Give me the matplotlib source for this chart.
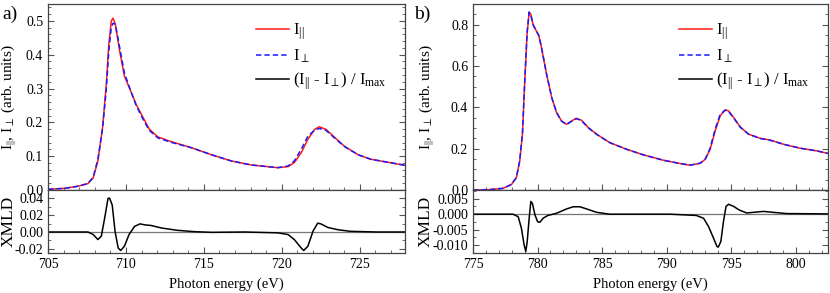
import matplotlib
matplotlib.use("Agg")
import matplotlib.pyplot as plt
from matplotlib.ticker import MultipleLocator, FormatStrFormatter

plt.rcParams['font.family'] = ['Liberation Serif', 'DejaVu Serif']
plt.rcParams['mathtext.fontset'] = 'custom'
plt.rcParams['mathtext.rm'] = 'Liberation Serif'
plt.rcParams['mathtext.it'] = 'Liberation Serif:italic'
plt.rcParams['mathtext.bf'] = 'Liberation Serif:bold'
plt.rcParams['axes.unicode_minus'] = False

# ---------------- data: panel a) (Fe L-edge) ----------------
E_a = [705, 706.07, 706.9, 707.56, 707.9, 708.2, 708.5, 708.74, 708.9, 709.06,
       709.17, 709.32, 709.6, 709.9, 710.3, 710.66, 711.1, 711.5, 712.05, 712.9,
       714.2, 715.5, 716.75, 718.03, 719.74, 720.4, 720.8, 721.24, 721.67, 722.1,
       722.4, 722.84, 723.4, 724.0, 724.9, 725.7, 726.8, 727.9]
Ipar_a = [0.002, 0.005, 0.011, 0.019, 0.036, 0.086, 0.184, 0.313, 0.431, 0.500,
          0.508, 0.490, 0.410, 0.337, 0.293, 0.253, 0.214, 0.180, 0.157, 0.143,
          0.125, 0.104, 0.086, 0.074, 0.066, 0.069, 0.081, 0.110, 0.150, 0.179,
          0.187, 0.179, 0.155, 0.130, 0.104, 0.091, 0.082, 0.073]
Iperp_a = [0.002, 0.005, 0.011, 0.019, 0.038, 0.091, 0.182, 0.299, 0.411, 0.482,
           0.493, 0.490, 0.421, 0.346, 0.294, 0.249, 0.209, 0.176, 0.154, 0.141,
           0.125, 0.104, 0.086, 0.074, 0.066, 0.071, 0.086, 0.120, 0.159, 0.177,
           0.182, 0.176, 0.153, 0.129, 0.104, 0.091, 0.082, 0.073]

Ex_a = [705, 707.56, 707.9, 708.2, 708.42, 708.63, 708.85, 708.95, 709.12, 709.3,
        709.5, 709.66, 709.9, 710.2, 710.55, 710.9, 711.2, 711.6, 712.3, 713.3,
        714.4, 715.5, 717.6, 719.74, 720.4, 720.8, 721.24, 721.4, 721.67, 722.0,
        722.3, 722.5, 722.95, 723.6, 724.4, 726.1, 727.9]
xmld_a = [0.0, 0.0, -0.003, -0.009, -0.005, 0.016, 0.040, 0.0404, 0.032, 0.001,
          -0.019, -0.022, -0.017, -0.003, 0.0066, 0.0097, 0.0085, 0.0078, 0.0047, 0.002,
          0.0004, -0.0004, 0.0, -0.001, -0.003, -0.009, -0.019, -0.022, -0.017, 0.001,
          0.0105, 0.0097, 0.0054, 0.0027, 0.0008, 0.0, 0.0]

# ---------------- data: panel b) (Co L-edge) ----------------
E_b = [775, 776.3, 777.33, 777.98, 778.36, 778.62, 778.83, 779.0, 779.19, 779.35,
       779.48, 779.66, 779.9, 780.1, 780.3, 780.7, 781.1, 781.47, 781.86, 782.25,
       782.63, 783.0, 783.4, 783.93, 784.58, 785.6, 786.9, 788.2, 789.75, 791.05,
       791.8, 792.6, 793.0, 793.37, 793.76, 794.15, 794.54, 794.8, 795.2, 795.7,
       796.35, 797.26, 798.0, 799.07, 800.36, 801.66, 802.5]
Ipar_b = [0.0, 0.002, 0.008, 0.027, 0.06, 0.14, 0.27, 0.51, 0.754, 0.86,
          0.85, 0.80, 0.77, 0.746, 0.69, 0.56, 0.447, 0.375, 0.334, 0.318,
          0.334, 0.347, 0.338, 0.302, 0.27, 0.229, 0.197, 0.17, 0.144, 0.128,
          0.12, 0.129, 0.149, 0.197, 0.286, 0.359, 0.388, 0.383, 0.35, 0.305,
          0.27, 0.25, 0.242, 0.221, 0.202, 0.189, 0.177]
Iperp_b = [0.0, 0.002, 0.008, 0.027, 0.060, 0.142, 0.275, 0.519, 0.763, 0.861,
           0.847, 0.798, 0.771, 0.748, 0.692, 0.560, 0.447, 0.375, 0.333, 0.317,
           0.332, 0.345, 0.336, 0.301, 0.269, 0.229, 0.197, 0.170, 0.144, 0.128,
           0.120, 0.130, 0.151, 0.202, 0.294, 0.367, 0.386, 0.380, 0.348, 0.304,
           0.270, 0.249, 0.241, 0.221, 0.202, 0.189, 0.177]

Ex_b = [775, 778.1, 778.5, 778.75, 778.96, 779.09, 779.2, 779.35, 779.48, 779.6,
        779.8, 780.0, 780.18, 780.43, 780.8, 781.47, 782.25, 782.76, 783.28, 783.8,
        784.58, 785.6, 790.3, 792.3, 792.86, 793.25, 793.63, 793.9, 794.0, 794.2,
        794.4, 794.6, 794.8, 795.2, 795.6, 796.2, 797.5, 799.3, 802.5]
xmld_b = [0.0, 0.0, -0.0008, -0.0045, -0.0099, -0.012, -0.0088, -0.0013, 0.0041, 0.0035,
          -0.0002, -0.0024, -0.0026, -0.0013, -0.0004, 0.0003, 0.0017, 0.0024, 0.0024, 0.0017,
          0.0006, 0.0, 0.0, -0.0004, -0.0013, -0.004, -0.0077, -0.0104, -0.0106, -0.0088,
          -0.0024, 0.0025, 0.0032, 0.0025, 0.0014, 0.0004, 0.0009, 0.0002, 0.0001]

W, H = 830, 293
fig = plt.figure(figsize=(W / 100, H / 100), dpi=100)

def axbox(x0, x1, y0, y1):
    return [x0 / W, 1 - y1 / H, (x1 - x0) / W, (y1 - y0) / H]

panels = [
    dict(E=E_a, Ip=Ipar_a, Iq=Iperp_a, Ex=Ex_a, X=xmld_a, x0=48, x1=405,
         xlim=(705, 727.9), ylim=(0, 0.55), ymaj=0.1, ymin=0.02, yfmt='%.1f',
         xlim2=(-0.025, 0.05), xmaj=0.02, xmin=0.01, xfmt='%.2f',
         label='a)', lx=2, lab1=19, lab2=17),
    dict(E=E_b, Ip=Ipar_b, Iq=Iperp_b, Ex=Ex_b, X=xmld_b, x0=473, x1=828,
         xlim=(775, 802.5), ylim=(0, 0.9), ymaj=0.2, ymin=0.05, yfmt='%.1f',
         xlim2=(-0.0125, 0.0078), xmaj=0.005, xmin=0.0025, xfmt='%.3f',
         label='b)', lx=414, lab1=437, lab2=434),
]

fs = 10
for p in panels:
    ax1 = fig.add_axes(axbox(p['x0'], p['x1'], 4, 190))
    ax2 = fig.add_axes(axbox(p['x0'], p['x1'], 190, 253))
    wpx = p['x1'] - p['x0']

    ax1.plot(p['E'], p['Ip'], color='#ff1a1a', lw=1.1, label=r'I$_{||}$')
    ax1.plot(p['E'], p['Iq'], color='#1a1aff', lw=1.1, ls=(0, (3.5, 2)),
             label=r'I$_{\perp}$')
    ax1.plot([], [], color='black', lw=1.1,
             label=r'(I$_{||}$ - I$_{\perp}$) / I$_{\rm max}$')
    ax1.set_xlim(*p['xlim'])
    ax1.set_ylim(*p['ylim'])
    ax1.yaxis.set_major_locator(MultipleLocator(p['ymaj']))
    ax1.yaxis.set_minor_locator(MultipleLocator(p['ymin']))
    ax1.yaxis.set_major_formatter(FormatStrFormatter(p['yfmt']))
    ax1.xaxis.set_major_locator(MultipleLocator(5))
    ax1.xaxis.set_minor_locator(MultipleLocator(1))
    ax1.tick_params(which='both', direction='in', right=True, top=False,
                    labelbottom=False, labelsize=fs, colors='#555555',
                    labelcolor='black')
    ax1.tick_params(which='major', length=4)
    ax1.tick_params(which='minor', length=2.5)
    ax1.set_ylabel(r'I$_{||}$, I$_{\perp}$ (arb. units)', fontsize=fs + 1)
    ax1.yaxis.set_label_coords((p['lab1'] - p['x0']) / wpx, 0.5)
    ax1.legend(loc='upper right', bbox_to_anchor=(0.99, 0.985),
               frameon=False, fontsize=fs + 2, handlelength=1.95,
               handletextpad=0.25, labelspacing=0.32)

    ax2.axhline(0, color='#777777', lw=0.9)
    ax2.plot(p['Ex'], p['X'], color='black', lw=1.1)
    ax2.set_xlim(*p['xlim'])
    ax2.set_ylim(*p['xlim2'])
    ax2.yaxis.set_major_locator(MultipleLocator(p['xmaj']))
    ax2.yaxis.set_minor_locator(MultipleLocator(p['xmin']))
    ax2.yaxis.set_major_formatter(FormatStrFormatter(p['xfmt']))
    ax2.xaxis.set_major_locator(MultipleLocator(5))
    ax2.xaxis.set_minor_locator(MultipleLocator(1))
    ax2.tick_params(which='both', direction='in', right=True, top=False,
                    labelsize=fs, colors='#555555', labelcolor='black')
    ax2.tick_params(which='major', length=4)
    ax2.tick_params(which='minor', length=2.5)
    ax2.set_xlabel('Photon energy (eV)', fontsize=fs + 0.5, labelpad=5)
    ax2.set_ylabel('XMLD', fontsize=fs + 2.5)
    ax2.yaxis.set_label_coords((p['lab2'] - p['x0']) / wpx, 0.5)

    for a in (ax1, ax2):
        for s in a.spines.values():
            s.set_color('#444444')
            s.set_linewidth(0.9)

    fig.text(p['lx'] / W, 1 - 14 / H, p['label'], fontsize=fs + 4,
             ha='left', va='center')

fig.savefig('out.png', dpi=100)
